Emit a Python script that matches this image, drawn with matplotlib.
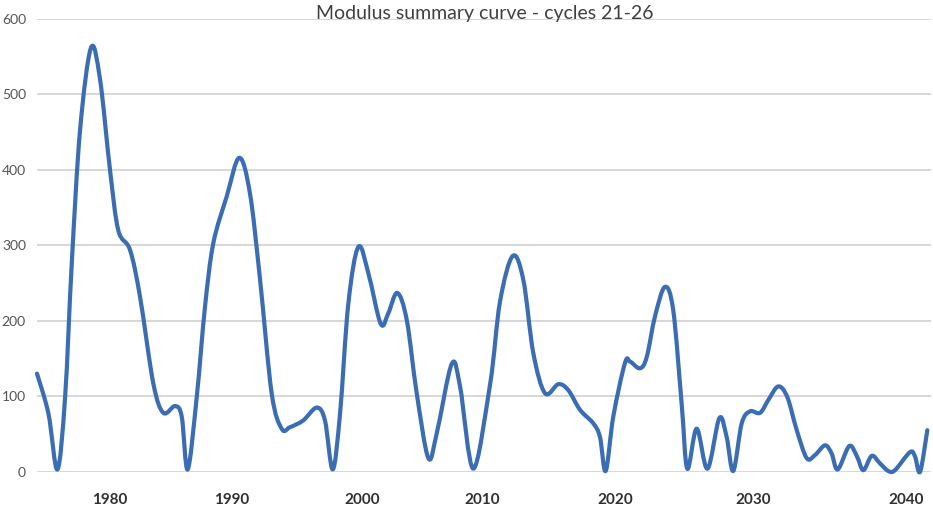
import numpy as np
import matplotlib
matplotlib.use("Agg")
import matplotlib.pyplot as plt
from matplotlib.path import Path
from matplotlib.patches import PathPatch

# values (decimal year, modulus)
years = [1974.00, 1974.94, 1975.68, 1976.31, 1976.86, 1977.54, 1978.44, 1979.18,
         1980.00, 1980.68, 1981.64, 1982.46, 1983.55, 1984.37, 1985.33, 1985.88,
         1986.37, 1987.11, 1987.79, 1988.47, 1989.57, 1990.56, 1991.38, 1992.15,
         1993.05, 1993.82, 1994.46, 1995.48, 1996.52, 1997.15, 1997.75, 1998.31,
         1998.95, 1999.72, 2000.53, 2001.56, 2002.19, 2002.94, 2003.73, 2004.56,
         2005.53, 2006.23, 2007.48, 2008.17, 2009.28, 2010.60, 2011.35, 2012.31,
         2013.11, 2013.86, 2014.74, 2015.74, 2016.49, 2017.37, 2018.37, 2018.87,
         2019.30, 2019.87, 2020.72, 2021.09, 2021.81, 2022.30, 2022.90, 2023.62,
         2024.22, 2024.83, 2025.24, 2025.92, 2026.70, 2027.56, 2028.09, 2028.57,
         2029.18, 2029.78, 2030.46, 2031.00, 2031.65, 2032.24, 2032.86, 2033.51,
         2034.05, 2034.71, 2035.14, 2035.54, 2036.29, 2036.78, 2037.21, 2037.76,
         2038.30, 2038.84, 2039.28, 2040.26, 2040.59, 2040.92, 2041.39]
modulus = [130, 77, 3, 99, 277, 453, 562, 520,
           400, 320, 294, 232, 117, 78, 87, 73,
           3, 99, 219, 303, 365, 416, 369, 256,
           104, 57, 59, 68, 85, 68, 3, 77,
           223, 298, 263, 196, 210, 237, 201, 104,
           18, 51, 143, 113, 4, 115, 225, 286,
           254, 157, 104, 116, 108, 82, 64, 46,
           1, 73, 144, 146, 137, 152, 206, 245,
           214, 90, 4, 57, 4, 71, 46, 1,
           64, 80, 78, 95, 113, 99, 55, 18,
           22, 35, 24, 3, 34, 21, 2, 21,
           11, 1, 2, 26, 20, 0, 55]

tick_years = [1980, 1990, 2000, 2010, 2020, 2030, 2040]
y_ticks = [0, 100, 200, 300, 400, 500, 600]
title = "Modulus summary curve - cycles 21-26"

# the category axis in the source is not evenly spaced: anchor years -> axis position
anchor_years = [1974.0, 1980, 1990, 2000, 2010, 2020, 2030, 2040, 2041.63]
anchor_pos = [37, 110, 232, 362, 482, 615, 753, 906, 931]


def fwd(v):
    return np.interp(v, anchor_years, anchor_pos)


def inv(v):
    return np.interp(v, anchor_pos, anchor_years)


def smooth_path(x, y):
    # catmull-rom through the points, drawn as cubic beziers (like excel's smoothed line)
    x = np.asarray(x, float)
    y = np.asarray(y, float)
    verts = [(x[0], y[0])]
    codes = [Path.MOVETO]
    n = len(x)
    for i in range(n - 1):
        i0 = max(i - 1, 0)
        i3 = min(i + 2, n - 1)
        c1 = (x[i] + (x[i + 1] - x[i0]) / 6, y[i] + (y[i + 1] - y[i0]) / 6)
        c2 = (x[i + 1] - (x[i3] - x[i]) / 6, y[i + 1] - (y[i3] - y[i]) / 6)
        verts += [c1, c2, (x[i + 1], y[i + 1])]
        codes += [Path.CURVE4] * 3
    return Path(verts, codes)


plt.rcParams['font.family'] = ['Lato', 'DejaVu Sans']

fig = plt.figure(figsize=(9.33, 5.17), dpi=100)
ax = fig.add_axes([37 / 933, (517 - 471.7) / 517, (931 - 37) / 933, (471.7 - 19) / 517])
ax.set_xscale('function', functions=(fwd, inv))
ax.set_xlim(anchor_years[0], anchor_years[-1])
ax.set_ylim(0, 600)

ax.add_patch(PathPatch(smooth_path(years, modulus), facecolor='none',
                       edgecolor='#3a6db3', lw=3.0, capstyle='round',
                       joinstyle='round', clip_on=False, zorder=3))

ax.set_yticks(y_ticks)
ax.set_xticks(tick_years)
ax.set_xticklabels([str(t) for t in tick_years], fontsize=11, fontweight='bold',
                   color='#303030')
ax.tick_params(axis='x', length=0, pad=15)
ax.tick_params(axis='y', length=0, pad=8, labelsize=10, labelcolor='#555555')
ax.grid(axis='y', color='#d4d4d4', lw=1.3)
ax.set_axisbelow(True)
for s in ax.spines.values():
    s.set_visible(False)

fig.text(485 / 933, 1 - 14 / 517, title, ha='center', va='center',
         fontsize=14, color='#404040')

plt.savefig('out.png', dpi=100)
plt.close()
